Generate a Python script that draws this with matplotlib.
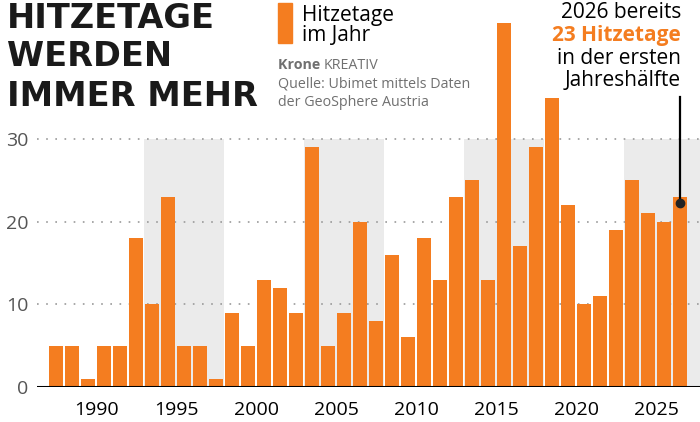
import matplotlib
matplotlib.use('Agg')
import matplotlib.pyplot as plt

# Data
years = list(range(1987, 2027))
hitzetage = [5, 5, 1, 5, 5, 18, 10, 23, 5, 5,
             1, 9, 5, 13, 12, 9, 29, 5, 9, 20,
             8, 16, 6, 18, 13, 23, 25, 13, 44, 17,
             29, 35, 22, 10, 11, 19, 25, 21, 20, 23]
band_starts = [1993, 2003, 2013, 2023]
yticks = [0, 10, 20, 30]
xticks = [1990, 1995, 2000, 2005, 2010, 2015, 2020, 2025]

ORANGE = '#f47d20'
BAND = '#ebebeb'
W, H = 700, 422

plt.rcParams['font.family'] = ['Open Sans', 'DejaVu Sans']

fig = plt.figure(figsize=(W / 100, H / 100), dpi=100)
ax = fig.add_axes([37 / W, 35 / H, 663 / W, 387 / H])

# shaded 5-year bands
for b in band_starts:
    ax.fill_between([b, b + 5], 0, 30, color=BAND, lw=0, zorder=0)

for y in yticks[1:]:
    ax.axhline(y, color='#9a9a9a', lw=1.2, ls=(0, (1, 4.5)), zorder=1)

ax.bar([y + 0.5 for y in years], hitzetage, width=0.83, color=ORANGE,
       zorder=2, linewidth=0)
ax.axhline(0, color='black', lw=2.2, zorder=3)

ax.set_xlim(1986.31, 2027.75)
ax.set_ylim(0, 387 / 8.267)
for s in ax.spines.values():
    s.set_visible(False)
ax.set_yticks(yticks)
ax.set_xticks(xticks)
ax.tick_params(axis='y', length=0, pad=6, labelsize=14, labelcolor='#555555')
ax.tick_params(axis='x', length=0, pad=10, labelsize=14, labelcolor='black')

# annotation for 2026
ax.plot([2026.5, 2026.5], [22.2, 35.1], color='black', lw=1.6, zorder=4)
ax.plot([2026.5], [22.2], 'o', color='#222222', ms=6, zorder=5)


def fy(px):
    return 1 - px / H


renderer = fig.canvas.get_renderer()

# title, fitted so that "IMMER MEHR" is about 251 px wide
title_lines = []
for txt, base in [('HITZETAGE', 28), ('WERDEN', 66.5), ('IMMER MEHR', 106)]:
    t = fig.text(7 / W, fy(base), txt, fontsize=24, fontweight='bold',
                 family=['DejaVu Sans'], color='#1a1a1a', va='baseline')
    title_lines.append(t)
wid = title_lines[-1].get_window_extent(renderer).width
for t in title_lines:
    t.set_fontsize(24 * 251 / wid)

# legend
fig.patches.append(plt.Rectangle((278 / W, fy(43)), 14 / W, 40 / H,
                                 transform=fig.transFigure, color=ORANGE))
fig.text(302 / W, fy(21), 'Hitzetage', fontsize=15, va='baseline')
fig.text(302 / W, fy(41), 'im Jahr', fontsize=15, va='baseline')

# source
krone = fig.text(278 / W, fy(69), 'Krone ', fontsize=10.3, fontweight='bold',
                 color='#707070', va='baseline')
kx = krone.get_window_extent(renderer).x1
fig.text(kx / W, fy(69), 'KREATIV', fontsize=10.3, color='#707070', va='baseline')
fig.text(278 / W, fy(88), 'Quelle: Ubimet mittels Daten', fontsize=10.3,
         color='#707070', va='baseline')
fig.text(278 / W, fy(106), 'der GeoSphere Austria', fontsize=10.3,
         color='#707070', va='baseline')

# annotation text
fig.text(681 / W, fy(18.5), '2026 bereits', fontsize=15, ha='right', va='baseline')
fig.text(681 / W, fy(41.5), '23 Hitzetage', fontsize=15, ha='right', va='baseline',
         fontweight='bold', color=ORANGE)
fig.text(681 / W, fy(63.5), 'in der ersten', fontsize=15, ha='right', va='baseline')
fig.text(681 / W, fy(86), 'Jahreshälfte', fontsize=15, ha='right', va='baseline')

plt.savefig('out.png', dpi=100)
